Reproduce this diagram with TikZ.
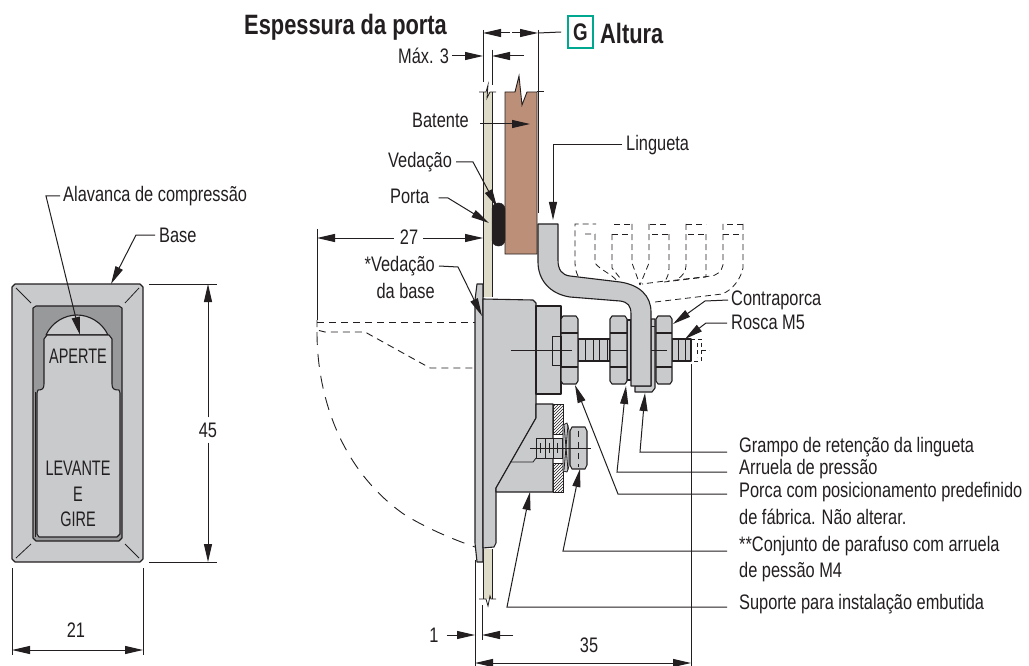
\documentclass[tikz,border=0pt]{standalone}
\usepackage{fontspec}
\setmainfont[FakeStretch=0.78]{Liberation Sans}
\newfontfamily\capsf[FakeStretch=0.69]{Liberation Sans}
\newfontfamily\boldc[FakeStretch=0.78]{Liberation Sans Bold}
\usetikzlibrary{arrows.meta,patterns}
\definecolor{mg}{HTML}{C8CACC}
\definecolor{dg}{HTML}{97999B}
\definecolor{ink}{HTML}{231F20}
\definecolor{doorc}{HTML}{DEDCC8}
\definecolor{brick}{HTML}{BC8F78}
\definecolor{teal}{HTML}{00A88F}
\tikzset{
 txt/.style={text=ink,font=\fontsize{21}{24}\selectfont,inner sep=0pt},
 captxt/.style={text=ink,font=\capsf\fontsize{21}{24}\selectfont,inner sep=0pt},
 ttl/.style={text=ink,font=\boldc\fontsize{28}{30}\selectfont,inner sep=0pt},
 ln/.style={draw=ink,line width=1pt},
 part/.style={draw=ink,line width=1.1pt,fill=mg,line join=round},
 thinl/.style={draw=ink,line width=0.8pt},
 ar/.style={draw=ink,line width=1pt,-{Triangle[length=18pt,width=8pt,color=ink]}},
 dar/.style={draw=ink,line width=1pt,{Triangle[length=18pt,width=8pt,color=ink]}-{Triangle[length=18pt,width=8pt,color=ink]}},
 dsh/.style={draw=ink,line width=0.9pt,dash pattern=on 7pt off 5pt},
}
\begin{document}
\begin{tikzpicture}[x=1pt,y=-1pt]
\useasboundingbox[fill=white] (0,0) rectangle (1029,666);
% ===== front view
\draw[part] (15,284) -- (140,284) -- (143,287) -- (143,559) -- (140,562) -- (15,562) -- (12,559) -- (12,287) -- cycle;
\draw[part,fill=dg] (36,306) -- (119,306) -- (122,308) -- (122,538) -- (119,541) -- (36,541) -- (33,538) -- (33,308) -- cycle;
\draw[part] (46,335) .. controls (52,322) and (65,315) .. (77,315) .. controls (89,315) and (102,322) .. (108,335) -- cycle;
\draw[part] (44,339) -- (47,335) -- (109,335) -- (112,339) -- (112,384) .. controls (112,389) and (114,390) .. (119,390) -- (120,393) -- (120,534) -- (117,537) -- (39,537) -- (37,534) -- (37,393) -- (38,390) .. controls (42,390) and (44,389) .. (44,384) -- cycle;
\draw[ink,line width=1.6pt] (35.5,392) -- (35.5,537);
\foreach \a/\b/\c/\d in {16/288/31/303,139/288/125/303,31/544/16/558,125/544/139/558}
  \draw[thinl] (\a,\b) -- (\c,\d);
\node[captxt] (aperte) at (78,356) {APERTE};
\node[captxt] (lev) at (78,468) {LEVANTE};
\node[captxt] (e) at (78,494) {E};
\node[captxt] (gire) at (78,519) {GIRE};
\node[txt,anchor=west] (alav) at (63,196) {Alavanca de compressão};
\node[txt,anchor=west] (base) at (159,235) {Base};
\coordinate (alavT) at (80,335); \coordinate (baseT) at (111,284);
\draw[ar] ([xshift=-3pt]alav.west) -- (46,196) -- (alavT);
\draw[ar] ([xshift=-4pt]base.west) -- (136,235) -- (baseT);
\draw[ln] (149,284) -- (217,284); \draw[ln] (149,562) -- (217,562);
\node[txt] (d45) at (208,430) {45};
\coordinate (a45) at (208,284); \coordinate (c45) at (208,562);
\draw[ar] ([yshift=5pt]d45.north) -- (a45);
\draw[ar] ([yshift=-5pt]d45.south) -- (c45);
\draw[ln] (12,568) -- (12,655); \draw[ln] (143,568) -- (143,655);
\coordinate (l21) at (12,650); \coordinate (r21) at (143,650);
\draw[dar] (l21) -- (r21);
\node[txt] (d21) at (76,630) {21};
% ===== dashed open positions
\draw[dsh] (317,322) -- (475,322);
\draw[dsh] (317,320) -- (317,330) -- (325,332) -- (365,332) -- (430,368) -- (475,368);
\draw[dsh,dash pattern=on 13pt off 9pt] (317,332) .. controls (317,395) and (340,470) .. (405,515) .. controls (430,530) and (455,540) .. (475,547);
% levers dashed
\begin{scope}[dsh,line width=0.8pt,dash pattern=on 6pt off 4pt]
\draw (578,276) .. controls (576,272) and (575,268) .. (575,262) -- (575,224) -- (596,224);
\draw (585,234) -- (595,234) -- (595,263) .. controls (600,270) and (612,274) .. (617,281);
\draw (630,224) -- (613,224); \draw (612,234) -- (630,234);
\draw (632,224) -- (632,263) -- (640,285);
\draw (612,234) -- (612,268) -- (620,278);
\draw (650,224) -- (668,224); \draw (652,234) -- (669,234);
\draw (649,224) -- (649,263) -- (640,285);
\draw (669,234) -- (669,268) .. controls (669,274) and (667,278) .. (665,281) -- (642,284);
\draw (686,224) -- (706,224); \draw (688,234) -- (706,234);
\draw (686,224) -- (686,266) .. controls (686,272) and (682,276) .. (678,279);
\draw (706,234) -- (706,277) -- (664,282);
\draw (727,224) -- (743,224); \draw (723,234) -- (743,234);
\draw (723,224) -- (723,265) .. controls (722,272) and (715,276) .. (711,276) -- (668,281);
\draw (743,224) -- (743,268) .. controls (741,278) and (733,290) .. (722,294) -- (655,302);
\end{scope}
% ===== door
\path[fill=doorc] (483,92) -- (492,92) -- (492,297) -- (483,297) -- cycle;
\draw[thinl] (483,92) -- (483,297); \draw[thinl] (492,92) -- (492,297);
\path[fill=doorc] (483,549) -- (492,549) -- (492,599) -- (483,599) -- cycle;
\draw[thinl] (483,549) -- (483,599); \draw[thinl] (492,549) -- (492,599);
\draw[thinl] (479,92) -- (486,92) -- (488,85) -- (487,98) -- (490,92) -- (496,92);
\draw[thinl] (479,599) -- (486,599) -- (488,606) -- (490,596) -- (491,599) -- (496,599);
% batente
\draw[fill=brick,draw=ink,line width=0.9pt] (505,92) -- (515,92) -- (519,76) -- (522,105) -- (527,92) -- (537,92) -- (537,254) -- (505,254) -- cycle;
\draw[ln] (537,92) -- (544,92);
% seal
\draw[fill=ink,draw=ink,rounded corners=6pt] (492,203) rectangle (505,246);
% ===== body
\draw[part] (475,300) -- (477,284) -- (483,284) -- (483,562) -- (477,562) -- (475,543) -- cycle;
\draw[part] (483,299) -- (533,300) -- (536,303) -- (536,418) -- (496,488) -- (496,543) -- (494,547) -- (483,548) -- cycle;
\draw[part] (536,306) -- (561,306) -- (561,394) -- (536,394) -- cycle;
\draw[part] (536,404) -- (553,404) -- (553,492) -- (496,492) -- (496,488) -- (536,418) -- cycle;
\draw[thinl] (510,462) -- (533,462) -- (536,458);
\draw[draw=ink,line width=0.9pt,fill=white,postaction={pattern=north east lines,pattern color=ink}] (553,404) rectangle (563,434);
\draw[draw=ink,line width=0.9pt,fill=white,postaction={pattern=north east lines,pattern color=ink}] (553,463) rectangle (563,492);
% small screw
\draw[part,line width=0.8pt] (536,438) rectangle (563,458);
\foreach \x in {545,553,562} \draw[thinl] (\x,438) -- (\x,458);
\foreach \x in {540,549,557} \draw[thinl] (\x,443) -- (\x,453);
\draw[part,line width=0.8pt] (563,425) -- (567,423) -- (569,430) -- (569,466) -- (567,472) -- (563,471) -- cycle;
\draw[thinl] (564,425) -- (568,470); \draw[thinl] (568,425) -- (564,470);
\draw[part] (572,427) -- (585,427) -- (587,431) -- (587,465) -- (585,469) -- (572,469) -- (570,465) -- (570,431) -- cycle;
\draw[thinl] (570,448) -- (587,448);
\draw[ink,line width=1pt,dash pattern=on 6pt off 5pt] (578,431) -- (578,467);
\draw[thinl] (530,448) -- (591,448);
% stud
\draw[part] (578,339) rectangle (610,361);
\foreach \x in {585,593,599,607} \draw[thinl] (\x,339) -- (\x,361);
\draw[part] (672,339) rectangle (691,361);
\foreach \x in {678,685} \draw[thinl] (\x,339) -- (\x,361);
\draw[dsh,line width=0.8pt,dash pattern=on 4pt off 3pt] (691,339) -- (701,339) -- (701,361) -- (691,361);
\draw[dsh,line width=0.8pt,dash pattern=on 4pt off 3pt] (697,343) -- (697,357); \draw[dsh,line width=0.8pt,dash pattern=on 4pt off 3pt] (702,350) -- (709,350);
% clip (behind latch)
\draw[part] (651,319) -- (655,319) -- (655,388) -- (652,392) -- (635,392) -- (635,386) -- (651,386) -- cycle;
\draw[thinl] (651,326) -- (655,326);
% washer
\draw[part] (627,320) rectangle (631,380);
% nuts
\foreach \l/\r/\nm in {561/578/nuta,610/627/nutb,656/672/nutc}{
 \draw[part] (\l+2,316) -- (\r-2,316) -- (\r,319) -- (\r,381) -- (\r-2,384) -- (\l+2,384) -- (\l,381) -- (\l,319) -- cycle;
 \draw[part,fill=none] (\l,333) -- (\r,333);
 \draw[part,fill=none] (\l,367) -- (\r,367);
}
% latch
\draw[part] (538,224) -- (558,224) -- (558,260) .. controls (558,270) and (562,275) .. (570,276) -- (620,282) .. controls (640,285) and (651,296) .. (651,312) -- (651,386) -- (631,386) -- (631,314) .. controls (631,306) and (628,302) .. (620,301) -- (570,297) .. controls (550,294) and (538,280) .. (538,262) -- cycle;
% centre line & inner box
\draw[thinl] (552,336) -- (561,336) -- (561,365) -- (552,365) -- cycle;
\draw[thinl] (511,350) -- (572,350);
\draw[thinl] (610,350) -- (627,350);
\draw[thinl] (651,350) -- (667,350);
% ===== dimension lines top
\node[ttl,anchor=west] (esp) at (244,27) {Espessura da porta};
\node[draw=teal,line width=1.6pt,minimum width=25pt,minimum height=32pt,inner sep=0pt,text=ink,font=\boldc\fontsize{24}{26}\selectfont] (g) at (580.5,32) {G};
\node[ttl,anchor=west] (alt) at (600,33) {Altura};
\coordinate (gl) at (483,33); \coordinate (gr) at (538,33);
\draw[ln] (483,30) -- (483,82); \draw[ln] (538,30) -- (538,213);
\draw[ln] (492,50) -- (492,85);
\draw[ln] (g.west) ++(-6,0) -- (gr);
\draw[ar] (gr) ++(-26,0) -- ++(26,0);
\draw[ar] (510,33) -- (gl);
\node[txt,anchor=west] (max) at (398,56) {Máx. 3};
\coordinate (maxA) at (483,56); \coordinate (maxB) at (492,56);
\draw[ar] ([xshift=3pt]max.east) -- (maxA);
\draw[ar] (524,56) -- (maxB);
% ===== labels left of door
\node[txt,anchor=west] (bat) at (412,120) {Batente};
\coordinate (batT) at (530,124);
\draw[ar] (480,124) -- (batT);
\node[txt,anchor=west] (ved) at (388,162) {Vedação};
\coordinate (vedT) at (497,207);
\draw[ar] ([xshift=4pt]ved.east) -- (473,162) -- (vedT);
\node[txt,anchor=west] (por) at (390,196) {Porta};
\coordinate (porT) at (489,223);
\draw[ar] ([xshift=9pt,yshift=-2pt]por.east) -- (448,198) -- (porT);
\node[txt] (d27) at (409,237) {27};
\coordinate (t27l) at (317,238); \coordinate (t27r) at (483,238);
\draw[ln] (317,229) -- (317,320);
\draw[ar] ([xshift=-6pt,yshift=-1pt]d27.west) -- (t27l);
\draw[ar] ([xshift=5pt,yshift=-1pt]d27.east) -- (t27r);
\node[txt,anchor=east] (vb1) at (435,266) {*Vedação};
\node[txt,anchor=east] (vb2) at (435,291) {da base};
\coordinate (vbT) at (482,316);
\draw[ar] ([xshift=4pt]vb1.east) -- (458,267) -- (vbT);
\node[txt,anchor=west] (lin) at (626,145) {Lingueta};
\coordinate (linT) at (553,220);
\draw[ar] ([xshift=-4pt]lin.west) -- (553,145) -- (linT);
% ===== right labels
\node[txt,anchor=west] (con) at (731,300) {Contraporca};
\node[txt,anchor=west] (ros) at (731,322) {Rosca M5};
\coordinate (conT) at (673,324); \coordinate (rosT) at (685,339);
\draw[ar] ([xshift=-3pt]con.west) -- (705,301) -- (conT);
\draw[ar] ([xshift=-4pt,yshift=-1pt]ros.west) -- (706,323) -- (rosT);
\node[txt,anchor=west] (gra) at (739,447) {Grampo de retenção da lingueta};
\node[txt,anchor=west] (arr) at (739,469) {Arruela de pressão};
\node[txt,anchor=west] (pc1) at (739,492) {Porca com posicionamento predefinido};
\node[txt,anchor=west] (pc2) at (739,517) {de fábrica. Não alterar.};
\node[txt,anchor=west] (cj1) at (739,546) {**Conjunto de parafuso com arruela};
\node[txt,anchor=west] (cj2) at (739,572) {de pessão M4};
\node[txt,anchor=west] (sup) at (739,604) {Suporte para instalação embutida};
\coordinate (graE) at (727,452); \coordinate (arrE) at (727,472); \coordinate (pcE) at (727,494); \coordinate (cjE) at (727,551); \coordinate (supE) at (727,607);
\coordinate (graT) at (645,393); \coordinate (arrT) at (626,386); \coordinate (pcT) at (575,385); \coordinate (cjT) at (580,469); \coordinate (supT) at (530,492);
\draw[ar] (graE) -- (640,452) -- (graT);
\draw[ar] (arrE) -- (617,472) -- (arrT);
\draw[ar] (pcE) -- (618,494) -- (pcT);
\draw[ar] (cjE) -- (563,551) -- (cjT);
\draw[ar] (supE) -- (507,607) -- (supT);
% ===== bottom dims
\draw[ln] (691,364) -- (691,666);
\draw[ln] (475,560) -- (475,666);
\draw[ln] (482,605) -- (482,640);
\node[txt] (d1) at (434,635) {1};
\coordinate (d1l) at (475,635); \coordinate (d1r) at (482,635);
\draw[ar] ([xshift=8pt]d1.east) -- (d1l);
\draw[ar] (513,635) -- (d1r);
\node[txt] (d35) at (589,645) {35};
\coordinate (d35l) at (475,663); \coordinate (d35r) at (691,663);
\draw[dar] (d35l) -- (d35r);
\end{tikzpicture}
\end{document}
